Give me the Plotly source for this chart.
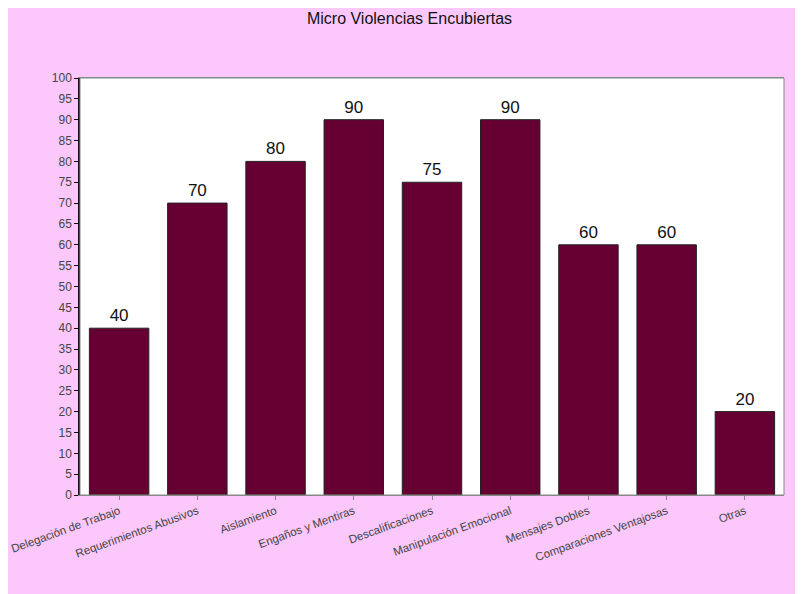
import plotly.graph_objects as go

categorias = ['Delegación de Trabajo', 'Requerimientos Abusivos', 'Aislamiento',
              'Engaños y Mentiras', 'Descalificaciones', 'Manipulación Emocional',
              'Mensajes Dobles', 'Comparaciones Ventajosas', 'Otras']
valores = [40, 70, 80, 90, 75, 90, 60, 60, 20]
ticks_y = list(range(0, 101, 5))

fig = go.Figure()
fig.add_trace(go.Bar(x=categorias, y=valores,
                     marker=dict(color='#660033', line=dict(color='#222222', width=1)),
                     text=valores, textposition='outside',
                     textfont=dict(size=17, color='#111111', family='Arial, Liberation Sans'),
                     cliponaxis=False))

fig.update_layout(
    width=803, height=594,
    paper_bgcolor='#FCC8FC', plot_bgcolor='white',
    font=dict(family='Arial, Liberation Sans', color='#333333'),
    title=dict(text='Micro Violencias Encubiertas', x=0.5, xanchor='center',
               y=0.983, yanchor='middle', font=dict(size=16, color='#111111')),
    margin=dict(l=72, r=27, t=70, b=107),
    bargap=0.24,
    showlegend=False,
)
fig.update_xaxes(tickangle=-20, tickfont=dict(size=11.5, color='#444444'), automargin=False,
                 showline=True, linecolor='#888888', mirror=True,
                 ticks='outside', ticklen=4, tickcolor='#888888')
fig.update_yaxes(range=[0, 100], tickvals=ticks_y, showgrid=False, automargin=False,
                 tickfont=dict(size=12, color='#444444'),
                 showline=True, linecolor='#111111', linewidth=1.5,
                 ticks='outside', ticklen=4, tickcolor='#111111', zeroline=False)
# borde gris arriba/derecha
fig.add_shape(type='rect', xref='paper', yref='paper', x0=0, y0=0, x1=1, y1=1,
              line=dict(color='#888888', width=1))

fig.write_html('out.html')
